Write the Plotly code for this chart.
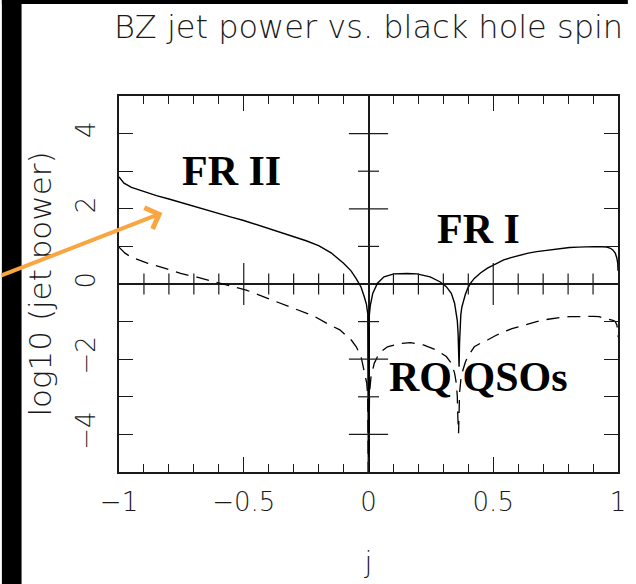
import plotly.graph_objects as go

# Black hole spin j and log10 of the Blandford-Znajek jet power (solid curve)
spin_solid = [-1.0, -0.98, -0.95, -0.90, -0.85, -0.80, -0.75, -0.70, -0.65, -0.60,
              -0.55, -0.50, -0.45, -0.40, -0.35, -0.30, -0.25, -0.20, -0.15, -0.10,
              -0.07, -0.05, -0.03, -0.017, -0.008, -0.003, 0.0,
              0.003, 0.007, 0.017, 0.036, 0.062, 0.102, 0.155, 0.194, 0.247, 0.286,
              0.312, 0.332, 0.345, 0.352, 0.356, 0.359, 0.361, 0.363,
              0.365, 0.367, 0.370, 0.374, 0.380, 0.388, 0.398, 0.410, 0.424, 0.450,
              0.477, 0.510, 0.542, 0.575, 0.608, 0.640, 0.674, 0.707, 0.740, 0.773,
              0.806, 0.840, 0.871, 0.905, 0.937, 0.955, 0.970, 0.980, 0.989, 0.995,
              0.999, 1.0]
logp_solid = [2.85, 2.68, 2.57, 2.45, 2.35, 2.26, 2.16, 2.07, 1.97, 1.88,
              1.78, 1.69, 1.58, 1.48, 1.38, 1.27, 1.15, 1.02, 0.83, 0.55,
              0.35, 0.15, -0.08, -0.34, -0.55, -0.80, -6.0,
              -0.85, -0.58, -0.25, 0.02, 0.19, 0.27, 0.28, 0.27, 0.19, 0.06,
              -0.07, -0.25, -0.51, -0.75, -0.98, -1.30, -1.70, -2.20,
              -1.55, -1.10, -0.82, -0.62, -0.45, -0.28, -0.11, 0.03, 0.15, 0.30,
              0.42, 0.54, 0.64, 0.71, 0.77, 0.82, 0.86, 0.89, 0.92, 0.95,
              0.97, 0.98, 0.99, 0.995, 0.99, 0.98, 0.95, 0.90, 0.82, 0.70,
              0.55, 0.35]

# Same quantity for the dashed curve
spin_dashed = [-1.0, -0.976, -0.95, -0.884, -0.818, -0.753, -0.687, -0.621, -0.555, -0.49,
               -0.417, -0.352, -0.286, -0.220, -0.155, -0.115, -0.069, -0.049, -0.030, -0.017,
               -0.007, -0.003, 0.0,
               0.004, 0.010, 0.023, 0.043, 0.076, 0.128, 0.168, 0.220, 0.273, 0.312,
               0.332, 0.345, 0.352, 0.356, 0.358, 0.361,
               0.365, 0.370, 0.378, 0.388, 0.398, 0.410, 0.424, 0.450, 0.477, 0.510,
               0.542, 0.575, 0.608, 0.640, 0.674, 0.707, 0.740, 0.773, 0.806, 0.840,
               0.871, 0.900, 0.924, 0.945, 0.963, 0.980, 0.989, 0.996, 1.0]
logp_dashed = [0.98, 0.82, 0.71, 0.55, 0.42, 0.28, 0.18, 0.06, -0.05, -0.16,
               -0.35, -0.51, -0.67, -0.85, -1.09, -1.22, -1.49, -1.67, -1.93, -2.29,
               -2.64, -3.0, -6.0,
               -2.90, -2.47, -2.11, -1.84, -1.67, -1.58, -1.56, -1.62, -1.76, -1.93,
               -2.11, -2.37, -2.64, -3.0, -3.53, -3.97,
               -2.90, -2.55, -2.30, -2.08, -1.93, -1.80, -1.67, -1.57, -1.49, -1.37,
               -1.27, -1.19, -1.12, -1.06, -1.00, -0.95, -0.91, -0.89, -0.87, -0.86,
               -0.85, -0.86, -0.87, -0.90, -0.94, -0.97, -1.00, -1.10, -1.40]

# Axis ticks
x_tickvals = [-1, -0.5, 0, 0.5, 1]
x_ticktext = ["\u22121", "\u22120.5", "0", "0.5", "1"]
x_minor = [-0.9, -0.8, -0.7, -0.6, -0.4, -0.3, -0.2, -0.1,
           0.1, 0.2, 0.3, 0.4, 0.6, 0.7, 0.8, 0.9]
y_tickvals = [-4, -2, 0, 2, 4]
y_ticktext = ["\u22124", "\u22122", "0", "2", "4"]
y_minor = [-3, -1, 1, 3]

labels = ["FR II", "FR I", "RQ QSOs"]
label_spin = [-0.55, 0.44, 0.442]
label_logp = [3.0, 1.46, -2.47]

W, H = 636, 584
ML, MR, MT, MB = 119, 10, 96, 112
INK = "#1a1a1a"
SANS = "DejaVu Sans"
TW = 1.2

fig = go.Figure()
fig.add_trace(go.Scatter(x=spin_solid, y=logp_solid, mode="lines",
                         line=dict(color="black", width=1.4), showlegend=False))
fig.add_trace(go.Scatter(x=spin_dashed, y=logp_dashed, mode="lines",
                         line=dict(color="black", width=1.3, dash="13px,8px"),
                         showlegend=False))

# Tick marks crossing the inner axes (log P = 0 and j = 0)
inner_x_major = [v for v in x_tickvals if v not in (-1, 0, 1)]
inner_y_major = [v for v in y_tickvals if v != 0]
fig.add_trace(go.Scatter(x=x_minor, y=[0] * len(x_minor), mode="markers",
                         marker=dict(symbol="line-ns", size=15,
                                     line=dict(color=INK, width=TW)),
                         showlegend=False, hoverinfo="skip", cliponaxis=False))
fig.add_trace(go.Scatter(x=inner_x_major, y=[0] * len(inner_x_major), mode="markers",
                         marker=dict(symbol="line-ns", size=30,
                                     line=dict(color=INK, width=TW)),
                         showlegend=False, hoverinfo="skip", cliponaxis=False))
fig.add_trace(go.Scatter(x=[0] * len(y_minor), y=y_minor, mode="markers",
                         marker=dict(symbol="line-ew", size=15,
                                     line=dict(color=INK, width=TW)),
                         showlegend=False, hoverinfo="skip", cliponaxis=False))
fig.add_trace(go.Scatter(x=[0] * len(inner_y_major), y=inner_y_major, mode="markers",
                         marker=dict(symbol="line-ew", size=28,
                                     line=dict(color=INK, width=TW)),
                         showlegend=False, hoverinfo="skip", cliponaxis=False))

frame = dict(showline=True, linecolor=INK, linewidth=1.5, mirror="ticks",
             ticks="inside", tickcolor=INK, tickwidth=TW, showgrid=False,
             zeroline=True, zerolinecolor=INK, zerolinewidth=1.5)

fig.update_layout(
    width=W, height=H,
    margin=dict(l=ML, r=MR, t=MT, b=MB),
    paper_bgcolor="white", plot_bgcolor="white",
    title=dict(text="BZ jet power vs. black hole spin", x=0.5, xref="paper",
               xanchor="center", y=1 - 27 / H, yref="container", yanchor="middle",
               font=dict(family=SANS, size=32, color=INK, weight=200)),
    xaxis=dict(range=[-1, 1], tickmode="array", tickvals=x_tickvals,
               ticktext=x_ticktext, ticklen=15,
               minor=dict(ticks="inside", tickmode="array", tickvals=x_minor,
                          ticklen=8, tickcolor=INK, tickwidth=TW),
               tickfont=dict(family=SANS, size=26, color=INK, weight=200),
               ticklabelstandoff=6,
               title=dict(text="j", standoff=36,
                          font=dict(family=SANS, size=28, color=INK, weight=200)),
               **frame),
    yaxis=dict(range=[-5, 5], tickmode="array", tickvals=y_tickvals,
               ticktext=y_ticktext, ticklen=14, tickangle=-90,
               minor=dict(ticks="inside", tickmode="array", tickvals=y_minor,
                          ticklen=14, tickcolor=INK, tickwidth=TW),
               tickfont=dict(family=SANS, size=26, color=INK, weight=200),
               ticklabelstandoff=12,
               title=dict(text="log10 (jet power)", standoff=10,
                          font=dict(family=SANS, size=31, color=INK, weight=200)),
               **frame),
)

# Region labels
for text, sx, sy in zip(labels, label_spin, label_logp):
    fig.add_annotation(x=sx, y=sy, text=text, showarrow=False,
                       font=dict(family="Liberation Serif", size=42, color="black",
                                 weight="bold"))

# Orange pointer towards the FR II branch
fig.add_annotation(x=-0.826, y=1.89, ax=-172, ay=63, text="", showarrow=True,
                   arrowhead=4, arrowsize=1.1, arrowwidth=4, arrowcolor="#F9A541",
                   standoff=0)

# Dark border strips along the left and top edges of the page
pw, ph = W - ML - MR, H - MT - MB
fig.add_shape(type="rect", xref="paper", yref="paper", layer="below",
              x0=-ML / pw, x1=(20 - ML) / pw, y0=-MB / ph, y1=(H - MB) / ph,
              fillcolor="black", line=dict(width=0))
fig.add_shape(type="rect", xref="paper", yref="paper", layer="below",
              x0=-ML / pw, x1=(W - ML) / pw, y0=(H - MB - 4) / ph, y1=(H - MB) / ph,
              fillcolor="black", line=dict(width=0))

fig.write_html("out.html")
